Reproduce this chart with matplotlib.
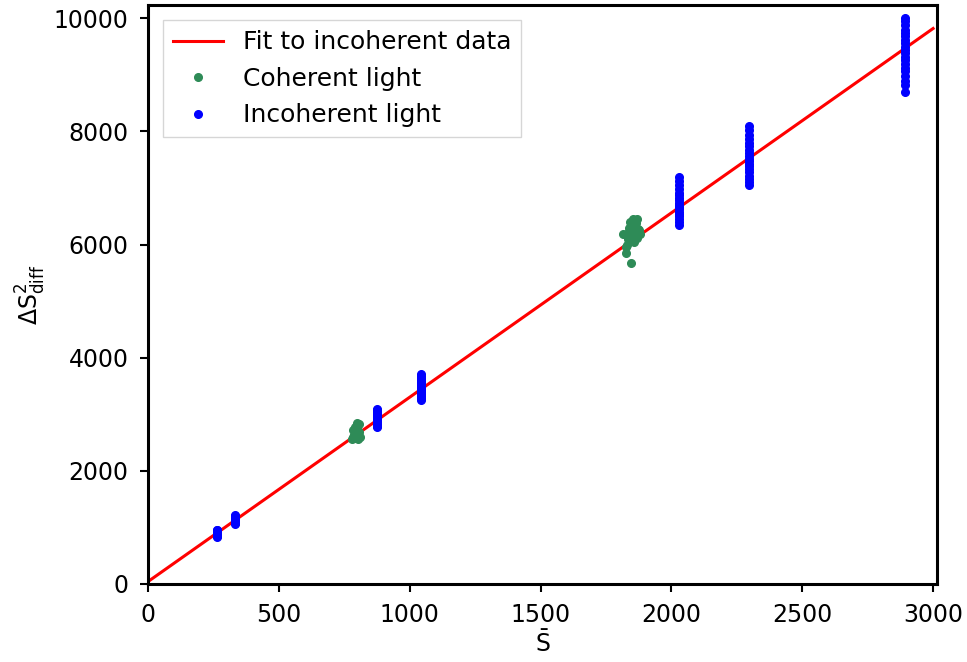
import matplotlib
matplotlib.use("Agg")
import matplotlib.pyplot as plt
import numpy as np

plt.rcParams["mathtext.default"] = "regular"

# incoherent light: mean signal per setting and the measured variances
inc_x = [263, 332, 875, 1042, 2031, 2296, 2893]
inc_y = [
    [835, 850, 862, 870, 878, 885, 893, 900, 905, 912, 920, 928, 937, 945, 958],
    [1065, 1080, 1092, 1100, 1110, 1118, 1125, 1133, 1140, 1150, 1160, 1172, 1185, 1200, 1210],
    [2775, 2800, 2830, 2850, 2870, 2890, 2905, 2920, 2940, 2955, 2975, 2990, 3010, 3040, 3070, 3090],
    [3250, 3290, 3330, 3360, 3390, 3420, 3440, 3460, 3480, 3500, 3520, 3545, 3570, 3600, 3640, 3680, 3710],
    [6350, 6400, 6450, 6500, 6540, 6580, 6620, 6660, 6700, 6740, 6780, 6820, 6870, 6920, 6980, 7050, 7120, 7200],
    [7050, 7100, 7160, 7220, 7280, 7330, 7380, 7430, 7480, 7520, 7570, 7620, 7680, 7740, 7800, 7870, 7940, 8020, 8100],
    [8700, 8820, 8900, 8980, 9060, 9130, 9200, 9260, 9320, 9380, 9440, 9500, 9560, 9620, 9680, 9740, 9800, 9880, 9950, 10000],
]

# coherent light
coh_x = [778, 785, 790, 795, 800, 805, 788, 798, 808, 782, 793, 803, 787, 797, 810, 792,
         1815, 1825, 1830, 1835, 1840, 1845, 1850, 1855, 1860, 1865, 1870, 1875, 1880,
         1828, 1838, 1848, 1858, 1868, 1845, 1852, 1862, 1873, 1833, 1843]
coh_y = [2560, 2600, 2650, 2700, 2750, 2820, 2580, 2620, 2680, 2720, 2770, 2560, 2640, 2850, 2600, 2700,
         6180, 5850, 6000, 6100, 6250, 6350, 6420, 6300, 6200, 6380, 6450, 6250, 6180,
         5950, 6300, 6150, 6050, 6120, 5670, 6450, 6350, 6280, 6200, 6400]

# linear fit to incoherent data
fit_slope = 3.26
fit_offset = 40
fit_range = [0, 3000]

fig = plt.figure(figsize=(9.67, 6.62), dpi=100)
ax = fig.add_axes([0.153, 0.118, 0.816, 0.874])

xs = np.array(fit_range)
ax.plot(xs, fit_slope * xs + fit_offset, color="red", lw=2.2, label="Fit to incoherent data")
ax.plot(coh_x, coh_y, "o", color="seagreen", ms=5.5, ls="none", label="Coherent light")
px = np.concatenate([[x] * len(y) for x, y in zip(inc_x, inc_y)])
py = np.concatenate(inc_y)
ax.plot(px, py, "o", color="blue", ms=5.5, ls="none", label="Incoherent light")

ax.set_xlim(0, 3015)
ax.set_ylim(0, 10230)
ax.set_xticks([0, 500, 1000, 1500, 2000, 2500, 3000])
ax.set_yticks([0, 2000, 4000, 6000, 8000, 10000])
ax.tick_params(labelsize=17, width=1.5, length=6, pad=8)
for s in ax.spines.values():
    s.set_linewidth(2.2)
ax.set_xlabel(r"$\bar{S}$", fontsize=17, labelpad=2)
ax.set_ylabel(r"$\Delta S^2_{diff}$", fontsize=17, labelpad=4)
ax.legend(loc="upper left", fontsize=18, fancybox=False, handlelength=2,
          borderaxespad=0.6, labelspacing=0.5)

fig.savefig("out.png", dpi=100)
